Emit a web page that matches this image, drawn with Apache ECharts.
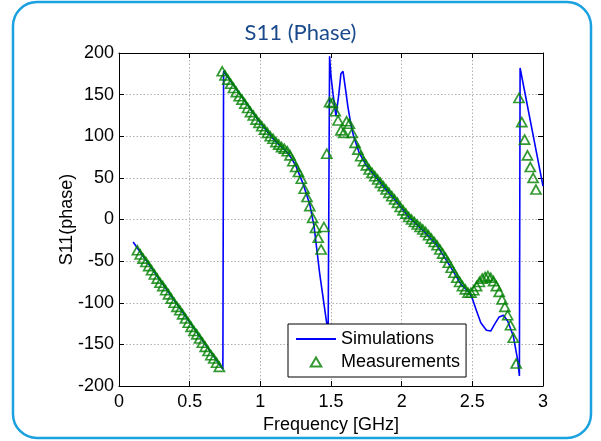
<!DOCTYPE html>
<html><head><meta charset="utf-8">
<script src="https://cdn.jsdelivr.net/npm/echarts@6/dist/echarts.min.js"></script>
<style>html,body{margin:0;padding:0;background:#fff}#c{width:601px;height:441px}</style>
</head><body><div id="c"></div>
<script>
const titleText = 'S11 (Phase)';
const xName = 'Frequency [GHz]';
const yName = 'S11(phase)';
const seriesNames = ['Simulations', 'Measurements'];

const simX = [0.10, 0.735, 0.74, 0.80, 0.90, 1.00, 1.10, 1.20, 1.25, 1.30, 1.35, 1.38, 1.42, 1.47, 1.48, 1.49, 1.50, 1.515, 1.535, 1.555, 1.57, 1.585, 1.60, 1.62, 1.64, 1.66, 1.70, 1.75, 1.85, 1.95, 2.05, 2.15, 2.25, 2.35, 2.42, 2.48, 2.50, 2.53, 2.56, 2.60, 2.63, 2.66, 2.69, 2.72, 2.75, 2.79, 2.82, 2.833, 2.838, 3.00];
const simY = [-27, -180, 178, 164, 140, 116, 95, 79, 65, 44, 18, -8, -65, -125, -131, 196, 172, 150, 124, 150, 175, 178, 160, 135, 115, 100, 80, 65, 44, 24, 3, -13, -31, -58, -78, -88, -95, -110, -124, -133, -134, -125, -117, -115, -122, -140, -168, -188, 182, 40];

const measX = [0.13,0.15,0.17,0.19,0.21,0.23,0.25,0.27,0.29,0.31,0.33,0.35,0.37,0.39,0.41,0.43,0.45,0.47,0.49,0.51,0.53,0.55,0.57,0.59,0.61,0.63,0.65,0.67,0.69,0.71,
0.73,0.75,0.77,0.79,0.81,0.83,0.85,0.87,0.89,0.91,0.93,0.95,0.97,0.99,1.01,1.03,1.05,1.07,1.09,1.11,1.13,1.15,1.17,1.19,1.21,1.23,1.25,1.27,1.29,1.31,1.33,1.35,1.37,1.39,1.41,1.43,1.45,1.47,
1.49,1.51,1.53,1.55,1.57,1.59,1.61,1.63,1.65,1.67,1.69,1.71,1.73,1.75,1.77,1.79,1.81,1.83,1.85,1.87,1.89,1.91,1.93,1.95,1.97,1.99,2.01,2.03,2.05,2.07,2.09,2.11,2.13,2.15,2.17,2.19,2.21,2.23,2.25,2.27,2.29,2.31,2.33,2.35,2.37,2.39,2.41,2.43,2.45,2.47,
2.49,2.51,2.53,2.55,2.57,2.59,2.61,2.63,2.65,2.67,2.69,2.71,2.73,2.75,2.77,2.79,2.81,2.83,2.85,2.87,2.89,2.91,2.93,2.95];
const measY = [-37,-42,-47,-51,-56,-61,-66,-71,-76,-80,-85,-90,-95,-100,-105,-109,-114,-119,-124,-129,-134,-138,-143,-148,-153,-158,-163,-167,-172,-177,
178,173,168,163,158,153,148,144,139,134,129,125,120,116,112,108,104,100,97,93,90,87,85,82,77,70,63,57,49,37,27,16,2,-10,-22,-36,-9,79,
141,140,130,119,107,104,118,115,104,92,84,76,70,65,60,56,52,48,44,40,36,32,28,24,20,15,11,7,3,0,-3,-6,-9,-12,-15,-19,-23,-27,-31,-36,-41,-46,-52,-58,-64,-70,-75,-80,-84,-88,
-88,-85,-80,-75,-71,-69,-68,-70,-74,-80,-87,-96,-105,-115,-127,-142,-173,146,117,96,77,63,50,36];

const chart = echarts.init(document.getElementById('c'), null, {renderer: 'canvas'});
const simData = simX.map((x, i) => [x, simY[i]]);
const measData = measX.map((x, i) => [x, measY[i]]);
const gridLine = {show: true, lineStyle: {color: '#b0b0b0', type: [1.5, 2], width: 1}};
const font = 'Liberation Sans, Arial, sans-serif';

chart.setOption({
  animation: false,
  backgroundColor: '#fff',
  graphic: [{
    type: 'rect', z: -1, silent: true,
    shape: {x: 13, y: 2, width: 578, height: 436, r: 24},
    style: {fill: '#fff', stroke: '#1aa1e0', lineWidth: 2.5}
  }],
  title: {
    text: titleText, left: 'center', top: 17,
    textStyle: {color: '#1a4a8c', fontSize: 22, fontWeight: 'normal', fontFamily: 'Lato, Open Sans, sans-serif'}
  },
  grid: {left: 119, right: 58, top: 53, bottom: 55, containLabel: false},
  legend: {
    orient: 'vertical', left: 288, top: 324,
    padding: [5, 6, 5, 8], itemGap: 3,
    backgroundColor: '#fff', borderColor: '#000', borderWidth: 1, borderRadius: 0,
    itemWidth: 40, itemHeight: 9,
    textStyle: {color: '#000', fontSize: 18, lineHeight: 20, fontFamily: font},
    data: [
      {name: seriesNames[0], icon: 'path://M0,0L40,0L40,2L0,2Z', itemStyle: {color: '#0000ff', borderWidth: 0}},
      {name: seriesNames[1], icon: 'path://M5,0L10,8.5L0,8.5Z', itemStyle: {color: 'rgba(255,255,255,0)', borderColor: '#008000', borderWidth: 2}}
    ]
  },
  xAxis: [{
    type: 'value', min: 0, max: 3, interval: 0.5,
    name: xName, nameLocation: 'middle', nameGap: 28,
    nameTextStyle: {color: '#000', fontSize: 18, fontFamily: font},
    axisLine: {show: true, onZero: false, lineStyle: {color: '#000', width: 1}},
    axisTick: {show: true, inside: true, length: 5, lineStyle: {color: '#000'}},
    axisLabel: {color: '#000', fontSize: 18, fontFamily: font, margin: 7},
    splitLine: gridLine
  }, {
    type: 'value', min: 0, max: 3, interval: 0.5, position: 'top',
    axisLine: {show: true, onZero: false, lineStyle: {color: '#000', width: 1}},
    axisTick: {show: true, inside: true, length: 5, lineStyle: {color: '#000'}},
    axisLabel: {show: false}, splitLine: {show: false}
  }],
  yAxis: [{
    type: 'value', min: -200, max: 200, interval: 50,
    name: yName, nameLocation: 'middle', nameGap: 43, nameRotate: 90, nameMoveOverlap: false,
    nameTextStyle: {color: '#000', fontSize: 18, fontFamily: font},
    axisLine: {show: true, onZero: false, lineStyle: {color: '#000', width: 1}},
    axisTick: {show: true, inside: true, length: 5, lineStyle: {color: '#000'}},
    axisLabel: {color: '#000', fontSize: 18, fontFamily: font, margin: 5},
    splitLine: gridLine
  }, {
    type: 'value', min: -200, max: 200, interval: 50, position: 'right',
    axisLine: {show: true, onZero: false, lineStyle: {color: '#000', width: 1}},
    axisTick: {show: true, inside: true, length: 5, lineStyle: {color: '#000'}},
    axisLabel: {show: false}, splitLine: {show: false}
  }],
  series: [{
    name: seriesNames[0], type: 'line', data: simData, showSymbol: false, symbol: 'none',
    lineStyle: {color: '#0000ff', width: 1.6}, itemStyle: {color: '#0000ff'}, z: 3
  }, {
    name: seriesNames[1], type: 'scatter', data: measData, symbol: 'triangle', symbolSize: [10, 9],
    itemStyle: {color: 'rgba(255,255,255,0)', borderColor: '#008000', borderWidth: 1.7}, z: 4
  }]
});
</script>
</body></html>
